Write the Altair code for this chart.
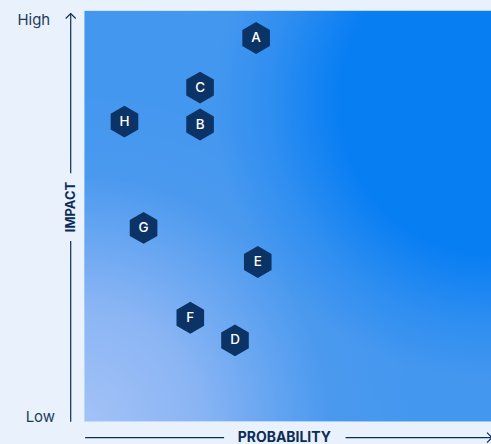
import altair as alt
import pandas as pd

# ---- data ----
labels = ["A", "B", "C", "D", "E", "F", "G", "H"]
probability = [42.2, 28.4, 28.4, 37.0, 42.6, 26.0, 14.5, 9.8]
impact = [93.4, 72.3, 81.3, 19.7, 38.8, 25.2, 47.1, 73.0]
y_end_labels = ["High", "Low"]
x_title = "PROBABILITY"
y_title = "IMPACT"

W, H = 408, 412
NAVY = "#0c2d57"
HEX_FILL = "#0b3366"
TXT = "#1e3a60"
FONT = "Inter"

df = pd.DataFrame({"label": labels, "p": probability, "i": impact})
one = pd.DataFrame({"a": [0]})

xs = alt.Scale(domain=[0, 100])
ys = alt.Scale(domain=[0, 100])

base_grad = {
    "gradient": "radial",
    "x1": 0, "y1": 1, "r1": 0,
    "x2": 0, "y2": 1, "r2": 0.8,
    "stops": [
        {"offset": 0.0, "color": "#a3c2f7"},
        {"offset": 0.35, "color": "#8ab5f4"},
        {"offset": 0.75, "color": "#4a99ef"},
        {"offset": 1.0, "color": "#4497ef"},
    ],
}
hot_grad = {
    "gradient": "radial",
    "x1": 1, "y1": 0.22, "r1": 0,
    "x2": 1, "y2": 0.22, "r2": 0.68,
    "stops": [
        {"offset": 0.0, "color": "rgba(8,126,243,1)"},
        {"offset": 0.55, "color": "rgba(8,126,243,1)"},
        {"offset": 0.8, "color": "rgba(8,126,243,0.35)"},
        {"offset": 1.0, "color": "rgba(8,126,243,0)"},
    ],
}

bg1 = alt.Chart(one).mark_rect(fill=base_grad).encode(
    x=alt.value(0), x2=alt.value(W), y=alt.value(0), y2=alt.value(H))
bg2 = alt.Chart(one).mark_rect(fill=hot_grad).encode(
    x=alt.value(0), x2=alt.value(W), y=alt.value(0), y2=alt.value(H))

HEX = "M0,-1 L0.866,-0.5 L0.866,0.5 L0,1 L-0.866,0.5 L-0.866,-0.5 Z"
hexes = alt.Chart(df).mark_point(
    shape=HEX, size=1024, filled=True, fill=HEX_FILL, opacity=1, strokeWidth=0
).encode(
    x=alt.X("p:Q", scale=xs, axis=None),
    y=alt.Y("i:Q", scale=ys, axis=None),
)
hex_text = alt.Chart(df).mark_text(
    color="white", fontSize=13.5, font=FONT, fontWeight=500, baseline="middle", align="center"
).encode(
    x=alt.X("p:Q", scale=xs, axis=None),
    y=alt.Y("i:Q", scale=ys, axis=None),
    text="label:N",
)

# ---- axes (decorative) ----
YAX = -14
y_gap_c = 197
y_line1 = alt.Chart(one).mark_rule(color=NAVY, strokeWidth=1.2).encode(
    x=alt.value(YAX), y=alt.value(2.7), y2=alt.value(y_gap_c - 34))
y_line2 = alt.Chart(one).mark_rule(color=NAVY, strokeWidth=1.2).encode(
    x=alt.value(YAX), y=alt.value(y_gap_c + 34), y2=alt.value(412.5))
y_arrow = alt.Chart(one).mark_point(
    shape="M-1,1 L0,0 L1,1", size=100, filled=False, stroke=NAVY, strokeWidth=1.2, opacity=1
).encode(x=alt.value(YAX), y=alt.value(2.7))
y_title_t = alt.Chart(pd.DataFrame({"t": [y_title]})).mark_text(
    angle=270, fontWeight="bold", fontSize=13, font=FONT, color=NAVY,
    align="center", baseline="middle"
).encode(x=alt.value(YAX), y=alt.value(y_gap_c), text="t:N")

XAY = 428.5
x_line1 = alt.Chart(one).mark_rule(color=NAVY, strokeWidth=1.2).encode(
    y=alt.value(XAY), x=alt.value(0.5), x2=alt.value(140))
x_line2 = alt.Chart(one).mark_rule(color=NAVY, strokeWidth=1.2).encode(
    y=alt.value(XAY), x=alt.value(262), x2=alt.value(409))
x_arrow = alt.Chart(one).mark_point(
    shape="M-1,-1 L0,0 L-1,1", size=100, filled=False, stroke=NAVY, strokeWidth=1.2, opacity=1
).encode(x=alt.value(409), y=alt.value(XAY))
x_title_t = alt.Chart(pd.DataFrame({"t": [x_title]})).mark_text(
    fontWeight="bold", fontSize=14, font=FONT, color=NAVY,
    align="center", baseline="middle"
).encode(x=alt.value(200.5), y=alt.value(XAY), text="t:N")

high_t = alt.Chart(pd.DataFrame({"t": [y_end_labels[0]]})).mark_text(
    fontSize=15, font=FONT, color=TXT, align="center", baseline="middle"
).encode(x=alt.value(-51), y=alt.value(9), text="t:N")
low_t = alt.Chart(pd.DataFrame({"t": [y_end_labels[1]]})).mark_text(
    fontSize=15, font=FONT, color=TXT, align="center", baseline="middle"
).encode(x=alt.value(-44.5), y=alt.value(407.5), text="t:N")

chart = alt.layer(
    bg1, bg2, hexes, hex_text,
    y_line1, y_line2, y_arrow, y_title_t,
    x_line1, x_line2, x_arrow, x_title_t,
    high_t, low_t,
).properties(
    width=W, height=H,
    autosize="none",
    padding={"left": 85, "top": 10, "right": 0, "bottom": 22},
    background="#e9f1fc",
).configure_view(stroke=None)

chart.save("out.html", embed_options={"renderer": "svg", "actions": False})
